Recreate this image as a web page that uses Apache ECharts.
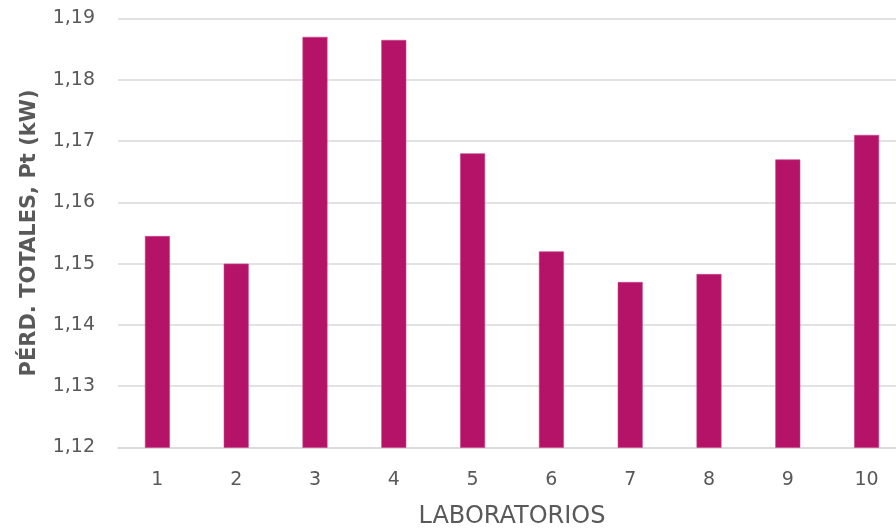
<!DOCTYPE html>
<html>
<head>
<meta charset="utf-8">
<script src="https://cdn.jsdelivr.net/npm/echarts@6/dist/echarts.min.js"></script>
<style>
  html, body { margin: 0; padding: 0; background: #ffffff; }
  #chart { width: 896px; height: 530px; }
</style>
</head>
<body>
<div id="chart"></div>
<script>
// Laboratory numbers along the horizontal axis
const laboratorios = ['1', '2', '3', '4', '5', '6', '7', '8', '9', '10'];
// Total losses Pt (kW) measured by each laboratory
const perdidasTotales = [1.1545, 1.150, 1.187, 1.1865, 1.168, 1.152, 1.147, 1.1483, 1.167, 1.171];
// Value axis range and step
const yMin = 1.12;
const yMax = 1.19;
const yStep = 0.01;

const FONT = '"DejaVu Sans", "Century Gothic", sans-serif';
const TEXT = '#595959';

const chart = echarts.init(document.getElementById('chart'), null, { renderer: 'canvas' });
chart.setOption({
  animation: false,
  backgroundColor: '#ffffff',
  grid: { left: 118, top: 18.5, width: 788, height: 429, outerBoundsMode: 'none', containLabel: false },
  xAxis: {
    type: 'category',
    data: laboratorios,
    name: 'LABORATORIOS',
    nameLocation: 'middle',
    nameGap: 57,
    nameTextStyle: { fontFamily: FONT, fontSize: 24, color: TEXT },
    axisLine: { show: true, lineStyle: { color: '#d9d9d9', width: 1.5 } },
    axisTick: { show: false },
    axisLabel: { fontFamily: FONT, fontSize: 19, color: TEXT, margin: 23 }
  },
  yAxis: {
    type: 'value',
    min: yMin,
    max: yMax,
    interval: yStep,
    name: 'PÉRD. TOTALES, Pt (kW)',
    nameLocation: 'middle',
    nameGap: 78,
    nameRotate: 90,
    nameTextStyle: { fontFamily: FONT, fontSize: 21, fontWeight: 'bold', color: TEXT },
    axisLine: { show: false },
    axisTick: { show: false },
    splitLine: { lineStyle: { color: '#d9d9d9', width: 1.5 } },
    axisLabel: {
      fontFamily: FONT, fontSize: 19, color: TEXT, margin: 23,
      formatter: v => v.toFixed(2).replace('.', ',')
    }
  },
  series: [{
    type: 'bar',
    data: perdidasTotales,
    barWidth: 25,
    itemStyle: { color: '#b51367', borderColor: '#c9478c', borderWidth: 0.6 }
  }]
});
</script>
</body>
</html>
